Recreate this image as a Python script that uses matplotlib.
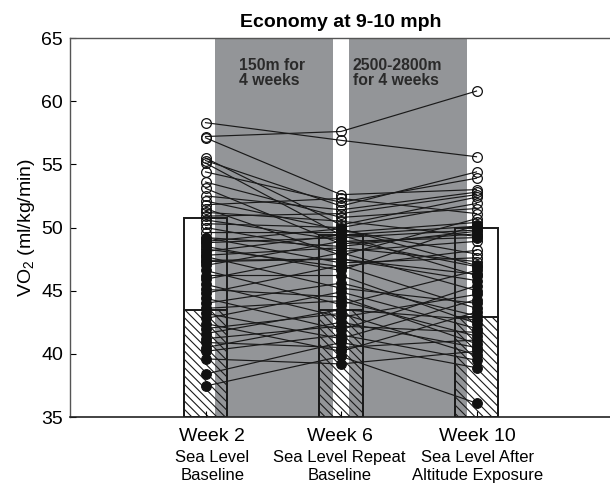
import matplotlib
matplotlib.use("Agg")
import matplotlib.pyplot as plt

plt.rcParams['font.family'] = ['Liberation Sans', 'DejaVu Sans']
plt.rcParams['mathtext.fontset'] = 'custom'
plt.rcParams['mathtext.rm'] = 'Liberation Sans'
plt.rcParams['mathtext.it'] = 'Liberation Sans:italic'
plt.rcParams['hatch.linewidth'] = 0.8

# ---- data ----
weeks = [1, 2, 3]
week_labels = ["Week 2", "Week 6", "Week 10"]
week_sublabels = ["Sea Level\nBaseline", "Sea Level Repeat\nBaseline", "Sea Level After\nAltitude Exposure"]

bar_open = [50.73, 49.4, 50.0]
bar_hatched = [43.47, 43.45, 42.94]

open_w2 = [58.3, 57.2, 57.1, 55.5, 55.3, 55.1, 54.4, 53.6, 53.1, 52.5, 52.1, 51.8,
           51.5, 51.2, 50.9, 50.6, 50.3, 50.0, 49.6, 49.2, 48.8, 48.3, 47.8, 47.3]
open_w6 = [56.9, 57.6, 52.6, 50.2, 51.7, 49.4, 52.0, 50.8, 48.7, 51.4, 49.8, 52.3,
           47.8, 50.5, 51.1, 49.0, 50.0, 48.1, 49.6, 47.2, 49.2, 46.9, 48.4, 47.5]
open_w10 = [55.6, 60.8, 53.0, 52.4, 54.4, 50.1, 53.9, 51.5, 49.5, 52.8, 47.9, 51.1,
            50.7, 49.3, 52.6, 46.9, 51.9, 48.9, 50.4, 47.6, 49.8, 48.2, 47.3, 46.3]

filled_w2 = [49.2, 48.9, 48.5, 48.1, 47.7, 47.4, 47.0, 46.6, 46.2, 45.9, 45.5, 45.1,
             44.8, 44.4, 44.0, 43.6, 43.2, 42.8, 42.4, 42.0, 41.6, 41.2, 40.9, 40.5,
             40.2, 39.6, 38.4, 37.45]
filled_w6 = [48.5, 49.9, 46.6, 49.4, 45.2, 47.5, 48.9, 43.9, 46.2, 48.0, 42.9, 44.5,
             47.0, 41.9, 45.6, 44.2, 41.2, 44.9, 40.2, 43.2, 43.5, 42.2, 40.5, 42.5,
             41.5, 39.2, 40.9, 39.8]
filled_w10 = [49.7, 47.0, 50.2, 46.2, 44.0, 45.8, 49.2, 46.6, 42.4, 45.0, 44.7, 40.8,
              43.6, 45.4, 43.0, 41.4, 44.3, 42.0, 43.3, 39.9, 42.7, 41.7, 41.1, 40.5,
              39.5, 40.2, 38.9, 36.1]

shade_spans = [(1.068, 1.942), (2.058, 2.931)]
shade_texts = ["150m for\n4 weeks", "2500-2800m\nfor 4 weeks"]

# ---- figure ----
fig = plt.figure(figsize=(6.10, 4.83), dpi=100)
ax = fig.add_axes([70/610, 66/483, 542/610, 379/483])
ax.set_xlim(0, 4)
ax.set_ylim(35, 65)

gray = '#939598'
for (a, b) in shade_spans:
    ax.axvspan(a, b, color=gray, lw=0, zorder=0)

bw = 0.32
ax.bar(weeks, [h - 35 for h in bar_open], bottom=35, width=bw, fill=False,
       edgecolor='#1a1a1a', lw=1.4, zorder=1)
ax.bar(weeks, [h - 35 for h in bar_hatched], bottom=35, width=bw, fill=False,
       edgecolor='#1a1a1a', lw=1.4, hatch='\\\\\\\\', zorder=1)

for vals in zip(filled_w2, filled_w6, filled_w10):
    ax.plot(weeks, vals, color='#1a1a1a', lw=0.85, zorder=2)
for vals in zip(open_w2, open_w6, open_w10):
    ax.plot(weeks, vals, color='#1a1a1a', lw=0.85, zorder=2)

for i, w in enumerate(weeks):
    fv = [filled_w2, filled_w6, filled_w10][i]
    ov = [open_w2, open_w6, open_w10][i]
    ax.plot([w] * len(fv), fv, 'o', ms=7, mfc='#111111', mec='#111111', mew=0.8,
            ls='none', zorder=3)
    ax.plot([w] * len(ov), ov, 'o', ms=7, mfc='none', mec='#111111', mew=0.9,
            ls='none', zorder=4)

for (a, b), t in zip(shade_spans, shade_texts):
    ax.text(a + 0.18 if a < 2 else a + 0.03, 63.45, t, ha='left', va='top',
            fontsize=11.3, fontweight='bold', color='#2a2a2a', linespacing=1.05)

ax.set_title("Economy at 9-10 mph", fontsize=14, fontweight='bold', pad=8)

ax.set_yticks([35, 40, 45, 50, 55, 60, 65])
ax.tick_params(axis='y', direction='in', length=4, labelsize=14, pad=5)
ax.set_xticks(weeks)
ax.set_xticklabels([])
ax.tick_params(axis='x', direction='in', length=4)

ax.spines['right'].set_visible(False)
for s in ['left', 'top']:
    ax.spines[s].set_color('#555555')
    ax.spines[s].set_linewidth(1.0)
ax.spines['bottom'].set_color('#222222')
ax.spines['bottom'].set_linewidth(1.2)

ax.set_ylabel(r'VO$_{\mathrm{2}}$ (ml/kg/min)', fontsize=14)
ax.yaxis.set_label_coords(-0.06, 0.5)

label_x = [1.05, 1.99, 3.01]
trans = ax.get_xaxis_transform()
for x, lab, sub in zip(label_x, week_labels, week_sublabels):
    ax.text(x, -0.0515, lab, transform=trans, ha='center', va='center', fontsize=14)
    ax.text(x, -0.131, sub, transform=trans, ha='center', va='center', fontsize=12,
            linespacing=1.25)

fig.savefig("out.png", dpi=100)
